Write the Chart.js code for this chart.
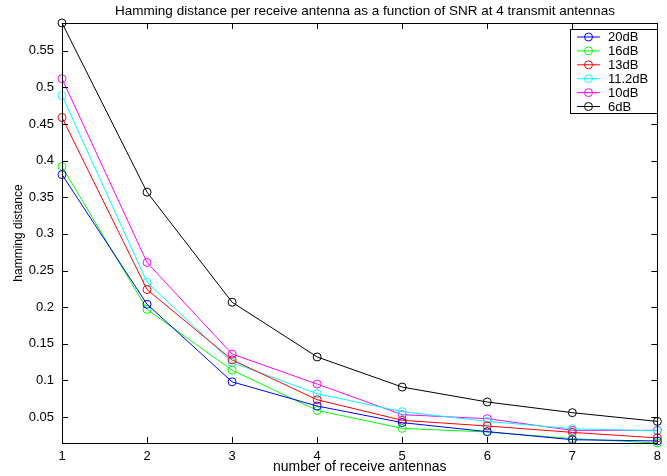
<!DOCTYPE html>
<html>
<head>
<meta charset="utf-8">
<script src="https://cdn.jsdelivr.net/npm/chart.js@4.4.1/dist/chart.umd.min.js"></script>
<style>
  html, body { margin: 0; padding: 0; background: #fff; }
  #wrap { width: 667px; height: 476px; }
</style>
</head>
<body>
<div id="wrap"><canvas id="myChart" width="667" height="476"></canvas></div>
<script>
const titleText = 'Hamming distance per receive antenna as a function of SNR at 4 transmit antennas'
const xLabels = ['1', '2', '3', '4', '5', '6', '7', '8']
const yTicks = [0.05, 0.1, 0.15, 0.2, 0.25, 0.3, 0.35, 0.4, 0.45, 0.5, 0.55]
const seriesNames = ['20dB', '16dB', '13dB', '11.2dB', '10dB', '6dB']
const seriesColors = ['#0000ff', '#00ff00', '#ff0000', '#00ffff', '#ff00ff', '#000000']

const snr20 = [0.381, 0.204, 0.098, 0.065, 0.0423, 0.030, 0.019, 0.0173]
const snr16 = [0.392, 0.197, 0.114, 0.059, 0.0345, 0.0295, 0.0205, 0.0145]
const snr13 = [0.459, 0.224, 0.128, 0.0736, 0.0455, 0.0377, 0.029, 0.0214]
const snr11_2 = [0.489, 0.234, 0.1245, 0.0818, 0.0573, 0.044, 0.034, 0.031]
const snr10 = [0.512, 0.261, 0.136, 0.095, 0.0532, 0.0477, 0.0318, 0.0318]
const snr6 = [0.588, 0.357, 0.2067, 0.132, 0.0909, 0.0705, 0.0559, 0.044]
const allSeries = [snr20, snr16, snr13, snr11_2, snr10, snr6]

const font = "'Liberation Sans', Arial, sans-serif"

// matlab style box, inward ticks, title and legend
const matlabBox = {
    id: 'matlabBox',
    afterDraw(chart) {
        const ctx = chart.ctx
        const a = chart.chartArea
        const xs = chart.scales.x
        const ys = chart.scales.y
        const tl = 6
        ctx.save()
        ctx.strokeStyle = '#000'
        ctx.lineWidth = 1
        ctx.strokeRect(Math.round(a.left) + 0.5, Math.round(a.top) + 0.5, Math.round(a.right - a.left), Math.round(a.bottom - a.top))
        ctx.beginPath()
        xs.ticks.forEach((t, i) => {
            const px = Math.round(xs.getPixelForTick(i)) + 0.5
            ctx.moveTo(px, a.bottom); ctx.lineTo(px, a.bottom - tl)
            ctx.moveTo(px, a.top); ctx.lineTo(px, a.top + tl)
        })
        ys.ticks.forEach(t => {
            const py = Math.round(ys.getPixelForValue(t.value)) + 0.5
            ctx.moveTo(a.left, py); ctx.lineTo(a.left + tl, py)
            ctx.moveTo(a.right, py); ctx.lineTo(a.right - tl, py)
        })
        ctx.stroke()

        ctx.fillStyle = '#000'
        ctx.font = '13.5px ' + font
        ctx.textAlign = 'center'
        ctx.textBaseline = 'middle'
        ctx.fillText(titleText, 365, 11)

        // legend
        ctx.font = '13px ' + font
        const bx = 570.5, by = 29.5, bw = 87, bh = 84
        ctx.fillStyle = '#fff'
        ctx.fillRect(bx, by, bw, bh)
        ctx.strokeStyle = '#000'
        ctx.strokeRect(bx, by, bw, bh)
        chart.data.datasets.forEach((ds, i) => {
            const y = 37 + i * 13.9
            ctx.strokeStyle = ds.borderColor
            ctx.beginPath()
            ctx.moveTo(577, y); ctx.lineTo(600, y)
            ctx.stroke()
            ctx.beginPath()
            ctx.arc(588.5, y, 4, 0, Math.PI * 2)
            ctx.stroke()
            ctx.fillStyle = '#000'
            ctx.textAlign = 'left'
            ctx.fillText(ds.label, 608, y + 0.5)
        })
        ctx.restore()
    }
}

const datasets = allSeries.map((vals, i) => ({
    label: seriesNames[i],
    data: vals,
    borderColor: seriesColors[i],
    backgroundColor: 'rgba(0,0,0,0)',
    borderWidth: 1,
    pointRadius: 4,
    pointBorderWidth: 1,
    pointBackgroundColor: 'rgba(0,0,0,0)',
    pointBorderColor: seriesColors[i],
    tension: 0,
    clip: false
}))

new Chart(document.getElementById('myChart'), {
    type: 'line',
    data: { labels: xLabels, datasets: datasets },
    options: {
        responsive: false,
        animation: false,
        layout: { padding: { top: 23, right: 2, left: 0, bottom: 0 } },
        plugins: {
            legend: { display: false },
            title: { display: false },
            tooltip: { enabled: false }
        },
        scales: {
            x: {
                type: 'category',
                offset: false,
                grid: { display: false, drawTicks: false },
                border: { display: false },
                ticks: { color: '#000', font: { size: 13, family: font }, padding: 6, maxRotation: 0, autoSkip: false },
                title: { display: true, text: 'number of receive antennas', color: '#000', font: { size: 14, family: font }, padding: { top: 0, bottom: 0 } },
                afterFit: s => { s.height = 33 }
            },
            y: {
                min: 0.0145,
                max: 0.588,
                grid: { display: false, drawTicks: false },
                border: { display: false },
                afterBuildTicks: s => { s.ticks = yTicks.map(v => ({ value: v })) },
                ticks: {
                    color: '#000', font: { size: 13, family: font }, padding: 8,
                    callback: v => String(+v.toFixed(2))
                },
                title: { display: true, text: 'hamming distance', color: '#000', font: { size: 12, family: font }, padding: { top: 11, bottom: 0 } },
                afterFit: s => { s.width = 62 }
            }
        }
    },
    plugins: [matlabBox]
})
</script>
</body>
</html>
